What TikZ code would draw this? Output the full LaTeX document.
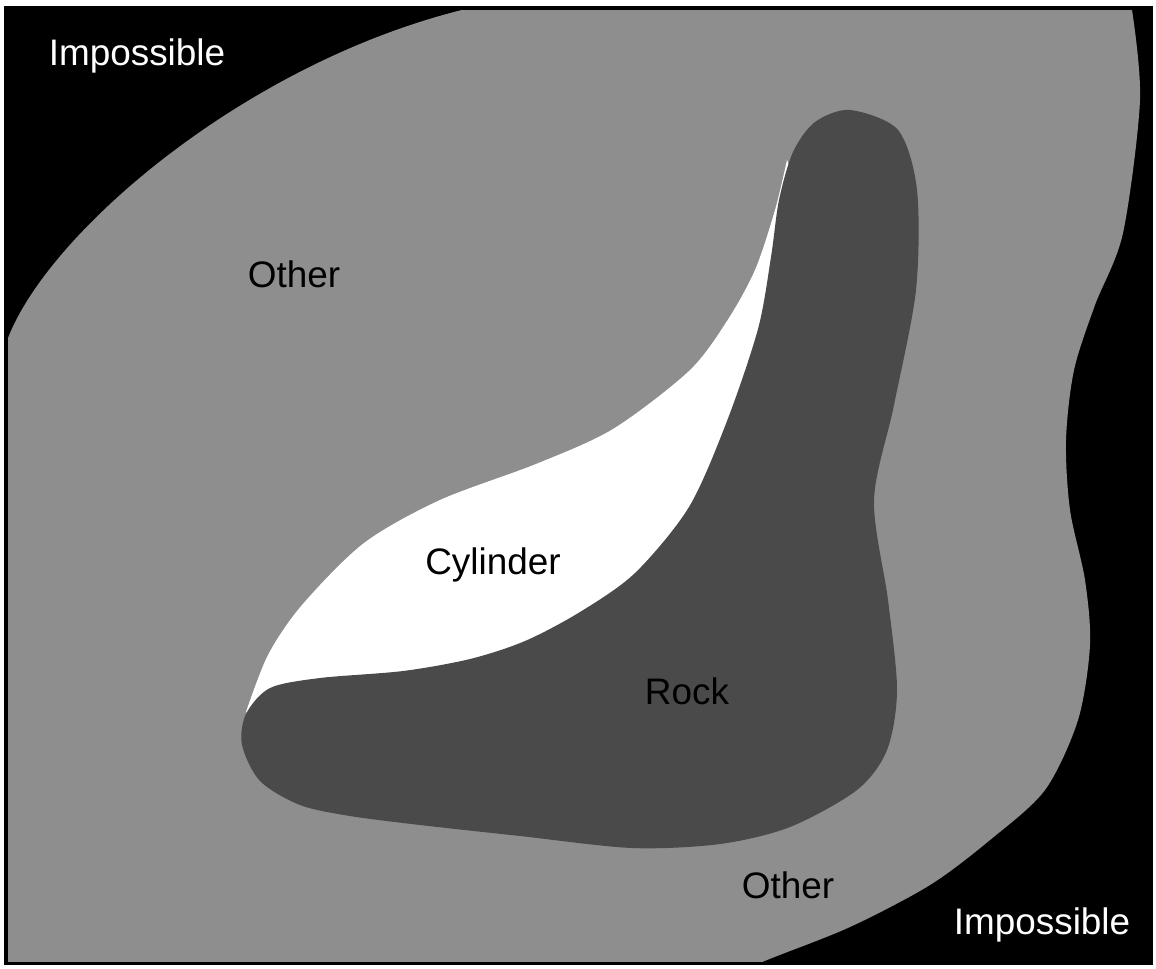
\documentclass[tikz,border=0pt]{standalone}
\usepackage{fontspec}
\setmainfont{Liberation Sans}
\usepackage{xcolor}
\usepackage{tikz}
\usetikzlibrary{positioning}
\definecolor{cOther}{HTML}{8e8e8e}
\definecolor{cRock} {HTML}{4a4a4a}
\definecolor{cFrame}{HTML}{000000}

\begin{document}
\begin{tikzpicture}[x=0.02cm,y=-0.02cm,font=\fontsize{21}{25}\selectfont,
    lbl/.style={inner sep=0pt}]
        \useasboundingbox (0,0) rectangle (1156,968);
        \fill[white] (0,0) rectangle (1156,968);
        \fill[cFrame] (4,6) rectangle (1153,965);
        % other region, cut to the frame
        \begin{scope}
          \clip (8,10) rectangle (1150,961);
          \fill[cOther] (-20,400) -- (8,338) .. controls (50,230) and (250,60) .. (470,8)
            -- (1130,-10)
            -- plot[smooth] coordinates {(1132,10) (1140,100) (1123,233) (1095,305)
              (1074,370) (1066,440) (1070,510) (1085,580) (1090,645) (1078,720)
              (1045,790) (990,840) (930,885) (850,927) (767,960) (690,992)}
            -- (-20,992) -- cycle;
        \end{scope}
        % cylinder
        \fill[white] plot[smooth] coordinates {(246,712) (268,655) (302,605) (364,543)
            (440,500) (536,464) (613,429) (689,371) (727,321) (755,270) (775,210) (787,160)}
          -- (840,300) -- (700,700) -- (300,740) -- cycle;
        % rock
        \fill[cRock] plot[smooth cycle] coordinates {(850,110) (898,130) (917,190)
            (916,290) (894,405) (874,500) (888,600) (897,690) (887,750) (857,790)
            (790,827) (720,844) (632,848) (520,836) (420,825) (350,816) (300,805)
            (260,781) (242,745) (246,714) (270,688) (320,678) (403,671) (470,659)
            (525,641) (580,612) (635,573) (689,507) (727,421) (758,329) (771,257)
            (779,200) (793,152) (815,122)};
        \node[lbl,white] (imp1) at (137,56) {Impossible};
        \node[lbl] (oth1) at (294,274) {Other};
        \node[lbl] (cyl) at (493,565) {Cylinder};
        \node[lbl] (rock) at (687,691) {Rock};
        \node[lbl] (oth2) at (788,885) {Other};
        \node[lbl,white] (imp2) at (1042,925) {Impossible};
      \end{tikzpicture}
\end{document}
